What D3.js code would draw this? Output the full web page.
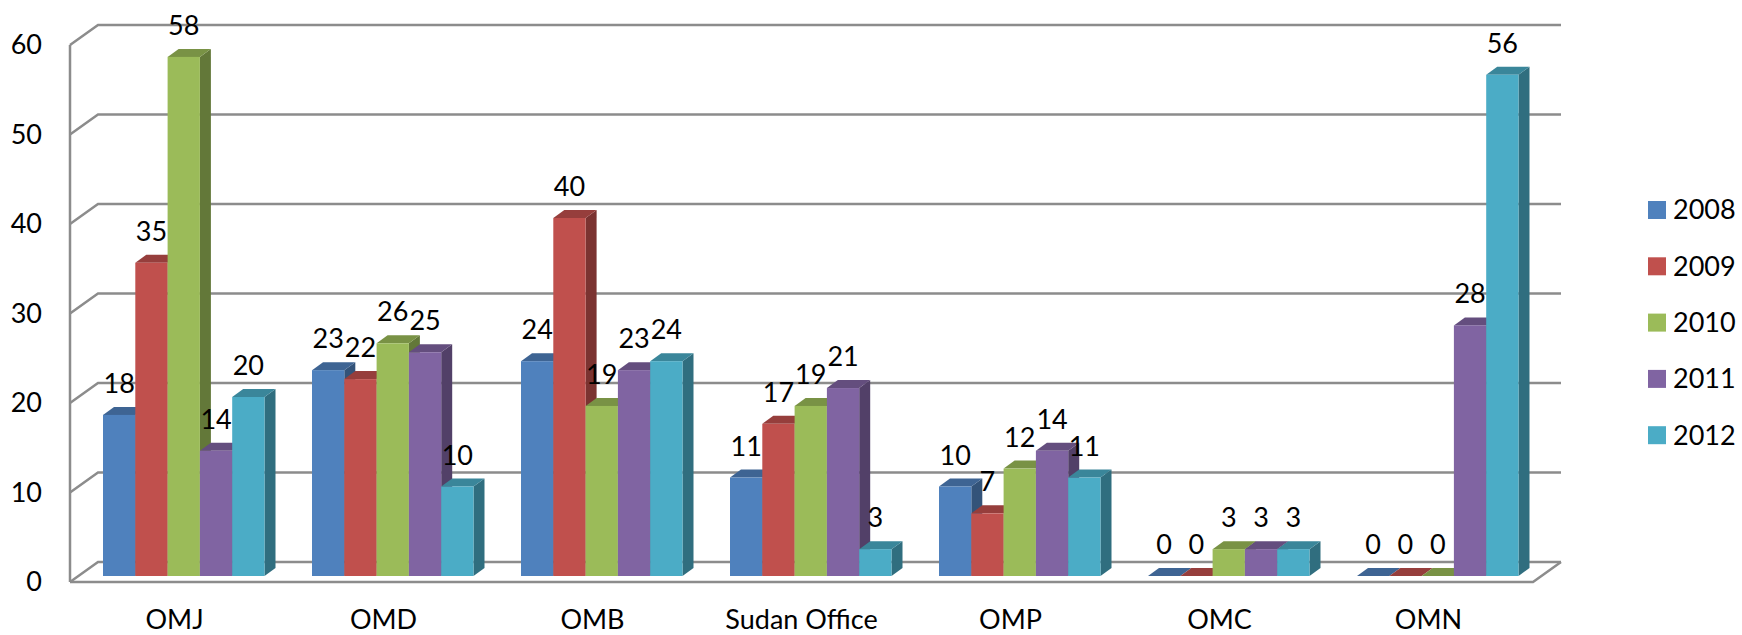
<!DOCTYPE html>
<html>
<head>
<meta charset="utf-8">
<script src="https://cdn.jsdelivr.net/npm/d3@7"></script>
<style>
  body { margin: 0; background: #fff; }
  svg { display: block; font-family: Lato, "Open Sans", sans-serif; }
</style>
</head>
<body>
<div id="chart"></div>
<script>
const categories = ['OMJ', 'OMD', 'OMB', 'Sudan Office', 'OMP', 'OMC', 'OMN'];
const years = ['2008', '2009', '2010', '2011', '2012'];
const colors = ['#4F81BD', '#C0504D', '#9BBB59', '#8064A2', '#4BACC6'];
const yTicks = [0, 10, 20, 30, 40, 50, 60];

// one array per series (year), values by category
const v2008 = [18, 23, 24, 11, 10, 0, 0];
const v2009 = [35, 22, 40, 17, 7, 0, 0];
const v2010 = [58, 26, 19, 19, 12, 3, 0];
const v2011 = [14, 25, 23, 21, 14, 3, 28];
const v2012 = [20, 10, 24, 3, 11, 3, 56];
const series = [v2008, v2009, v2010, v2011, v2012];

const width = 1742, height = 635;
const wallDx = 28, wallDy = -20;   // depth of the walls
const barDx = 11, barDy = -8;      // depth of a bar

const svg = d3.select('#chart').append('svg')
    .attr('width', width)
    .attr('height', height);

const x = d3.scaleBand().domain(categories).range([70, 1533]);
const xInner = d3.scaleBand().domain(years).range([33, 194.5]);
const yFront = d3.scaleLinear().domain([0, 60]).range([582, 45]);
const yBar = d3.scaleLinear().domain([0, 60]).range([576, 39]);

const gridColor = '#8c8c8c';
const x0 = x.range()[0], x1 = x.range()[1];

// walls / gridlines
const grid = svg.append('g')
    .attr('fill', 'none')
    .attr('stroke', gridColor)
    .attr('stroke-width', 2.5);

grid.selectAll('path.gl')
    .data(yTicks)
    .enter().append('path')
    .attr('class', 'gl')
    .attr('d', d => `M${x0},${yFront(d)}L${x0 + wallDx},${yFront(d) + wallDy}L${x1 + wallDx},${yFront(d) + wallDy}`);

grid.append('line')
    .attr('x1', x0).attr('x2', x0)
    .attr('y1', yFront(60)).attr('y2', yFront(0));

// floor front edge + right edge
grid.append('path')
    .attr('d', `M${x0},${yFront(0)}L${x1},${yFront(0)}L${x1 + wallDx},${yFront(0) + wallDy}`);

// y tick labels
svg.append('g').selectAll('text')
    .data(yTicks)
    .enter().append('text')
    .attr('x', 42)
    .attr('y', d => yFront(d))
    .attr('dy', '0.35em')
    .attr('text-anchor', 'end')
    .attr('font-size', 27)
    .attr('fill', '#000')
    .text(d => d);

// bars
const bars = [];
categories.forEach((c, ci) => {
    years.forEach((yr, si) => {
        bars.push({ cat: c, year: yr, si, value: series[si][ci] });
    });
});

const bw = xInner.bandwidth();

const barG = svg.append('g').selectAll('g')
    .data(bars)
    .enter().append('g');

barG.each(function(d) {
    const g = d3.select(this);
    const bx = x(d.cat) + xInner(d.year);
    const top = yBar(d.value);
    const bottom = yBar(0);
    const base = d3.color(colors[d.si]);
    // side
    g.append('path')
        .attr('d', `M${bx + bw},${top}L${bx + bw + barDx},${top + barDy}L${bx + bw + barDx},${bottom + barDy}L${bx + bw},${bottom}Z`)
        .attr('fill', base.darker(1.25));
    // top
    g.append('path')
        .attr('d', `M${bx},${top}L${bx + barDx},${top + barDy}L${bx + bw + barDx},${top + barDy}L${bx + bw},${top}Z`)
        .attr('fill', base.darker(0.7));
    // front
    if (d.value > 0) {
        g.append('rect')
            .attr('x', bx)
            .attr('y', top)
            .attr('width', bw)
            .attr('height', bottom - top)
            .attr('fill', base);
    }
});

// value labels
svg.append('g').selectAll('text')
    .data(bars)
    .enter().append('text')
    .attr('x', d => x(d.cat) + xInner(d.year) + bw / 2)
    .attr('y', d => yBar(d.value) - 22)
    .attr('text-anchor', 'middle')
    .attr('font-size', 27)
    .attr('fill', '#000')
    .text(d => d.value);

// category labels
svg.append('g').selectAll('text')
    .data(categories)
    .enter().append('text')
    .attr('x', d => x(d) + x.bandwidth() / 2)
    .attr('y', 629)
    .attr('text-anchor', 'middle')
    .attr('font-size', 27)
    .attr('fill', '#000')
    .text(d => d);

// legend
const legend = svg.append('g').selectAll('g')
    .data(years)
    .enter().append('g')
    .attr('transform', (d, i) => `translate(1648,${210 + i * 56.3})`);

legend.append('rect')
    .attr('x', 0).attr('y', -9)
    .attr('width', 18).attr('height', 18)
    .attr('fill', (d, i) => colors[i]);

legend.append('text')
    .attr('x', 25)
    .attr('dy', '0.35em')
    .attr('font-size', 27)
    .attr('fill', '#000')
    .text(d => d);
</script>
</body>
</html>
